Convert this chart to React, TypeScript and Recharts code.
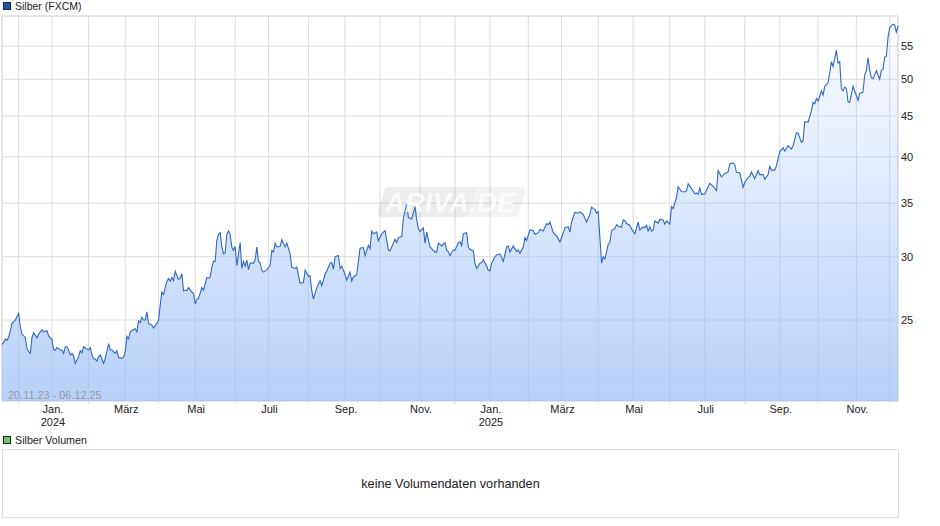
import { ComposedChart, Area, XAxis, YAxis, CartesianGrid, ReferenceArea } from 'recharts';

// trading sessions since 20.11.23 (only the turning points of the line)
const sessions = [
  0, 1, 2, 3, 4, 5, 6, 8, 10, 11, 12, 14, 15, 16, 17, 18, 19, 20, 21, 22, 24, 25, 27, 28, 30, 31, 32, 33, 35, 36, 37, 38, 39, 40, 41, 42, 43, 44, 46, 47, 48, 49, 51, 52, 53, 54, 55, 56, 57, 58, 59, 61, 62, 64, 65, 66, 68, 69, 70, 72, 73, 74, 75, 76, 77, 79, 80, 81, 82, 83, 84, 85, 86, 87, 88, 90, 91, 93, 94,
  95, 96, 97, 98, 99, 100, 101, 102, 103, 104, 106, 107, 108, 109, 110, 111, 112, 114, 115, 116, 117, 118, 120, 121, 123, 124, 125, 126, 127, 128, 129, 130, 131, 132, 133, 134, 135, 136, 137, 138, 139, 140, 141, 143, 144, 145, 146, 147, 148, 149, 151, 152, 153, 154, 155, 156, 157, 159, 161, 162, 163, 164, 165, 167, 168, 170, 171, 173, 174, 176, 177, 179, 181, 182, 184, 185,
  186, 187, 189, 191, 192, 194, 196, 197, 198, 199, 200, 202, 203, 204, 206, 207, 209, 210, 211, 213, 215, 217, 218, 220, 221, 222, 223, 225, 226, 228, 230, 232, 233, 236, 237, 238, 240, 241, 243, 244, 246, 248, 249, 250, 251, 253, 254, 255, 257, 259, 260, 261, 262, 264, 266, 267, 268, 269, 271, 272, 274, 275, 276, 277, 279,
  280, 281, 283, 284, 285, 287, 288, 289, 291, 292, 293, 294, 296, 297, 299, 301, 303, 304, 305, 307, 309, 310, 311, 313, 314, 315, 317, 319, 320, 322, 323, 325, 327, 328, 329, 331, 333, 335, 336, 338, 340, 341, 342, 344, 346, 347, 349, 351, 353, 354, 356, 357, 358, 360, 361, 362, 364, 365, 366, 368, 369, 370, 372, 373,
  374, 375, 377, 378, 380, 382, 383, 385, 386, 387, 388, 389, 390, 391, 392, 394, 395, 397, 398, 399, 401, 402, 403, 405, 406, 408, 410, 411, 412, 414, 416, 417, 418, 419, 420, 422, 424, 425, 427, 429, 430, 432, 434, 436, 437, 439, 440, 441, 443, 445, 446, 448, 449, 450, 452, 454, 455, 457, 458, 460, 461, 462, 464,
  465, 467, 469, 470, 472, 474, 475, 477, 478, 480, 481, 482, 484, 486, 487, 488, 489, 490, 492, 493, 494, 496, 497, 498, 499, 501, 502, 503, 504, 505, 506, 507, 508, 509, 511, 512, 514, 515, 517, 518, 519, 520, 521, 522, 523, 525, 527, 528, 529, 530, 531, 532, 533, 535, 536, 537, 538,
];

const prices = [
  23.3, 23.44, 23.66, 23.58, 23.78, 24.24, 24.76, 25.0, 25.49, 24.52, 24.01, 23.78, 23.04, 22.82, 22.71, 23.78, 24.1, 23.93, 23.75, 24.01, 24.31, 24.17, 24.24, 23.88, 23.63, 22.95, 22.93, 23.1, 22.93, 22.93, 22.71, 23.15, 23.15, 22.93, 22.6, 22.71, 22.55, 22.07, 22.48, 22.89, 22.75, 23.15, 23.0, 22.95, 23.1, 22.6, 22.37, 22.33, 22.22, 22.5, 22.6, 22.07, 22.39, 23.36, 22.95, 22.93, 22.71, 22.89, 22.45, 22.39, 22.48, 22.82, 23.85, 23.68, 24.17, 24.33, 24.38, 24.17, 24.95, 24.81, 25.2, 25.0, 25.0, 25.6, 24.76, 24.64, 24.43, 24.76, 25.0,
  26.1, 27.1, 26.9, 27.45, 27.94, 28.17, 27.97, 28.25, 28.0, 28.77, 28.1, 28.2, 28.58, 27.2, 27.25, 27.2, 27.45, 27.1, 27.0, 26.2, 26.55, 26.6, 27.45, 27.25, 28.25, 28.2, 28.3, 29.1, 29.6, 29.6, 31.45, 32.0, 32.15, 30.85, 30.25, 30.35, 32.0, 32.3, 32.0, 30.85, 30.55, 30.9, 29.25, 31.25, 29.0, 29.6, 29.2, 29.7, 28.9, 29.45, 29.45, 29.7, 30.85, 29.6, 29.45, 28.85, 28.7, 28.9, 29.25, 30.55, 30.4, 31.2, 30.85, 30.9, 31.5, 30.85, 31.2, 30.25, 29.1, 29.0, 29.1, 27.8, 27.85, 28.85, 28.35, 28.4,
  27.2, 26.55, 27.45, 28.0, 27.6, 28.5, 29.1, 29.45, 29.5, 28.95, 30.0, 30.1, 29.0, 29.2, 28.5, 28.05, 28.7, 27.97, 28.3, 28.5, 30.75, 30.8, 30.1, 31.0, 30.7, 32.3, 32.05, 32.2, 31.4, 32.05, 32.35, 30.6, 30.5, 31.55, 31.25, 31.7, 31.8, 33.5, 34.9, 33.6, 33.45, 34.65, 33.35, 32.5, 32.25, 32.6, 31.2, 32.2, 30.85, 30.55, 30.4, 30.4, 31.2, 30.95, 31.25, 30.55, 30.45, 30.1, 30.6, 30.55, 31.25, 31.3, 31.0, 32.05, 32.15,
  30.85, 30.65, 30.5, 29.4, 29.0, 29.45, 29.5, 29.75, 29.2, 28.85, 28.8, 29.45, 30.0, 30.15, 30.25, 29.6, 30.85, 30.95, 30.4, 30.95, 30.45, 30.6, 30.3, 30.85, 31.7, 31.45, 32.4, 32.35, 32.0, 32.15, 32.45, 32.3, 33.0, 32.9, 33.15, 32.15, 31.85, 31.3, 31.7, 32.6, 32.7, 32.2, 33.15, 34.1, 34.0, 34.15, 33.9, 33.15, 33.9, 34.6, 34.35, 34.0, 34.15, 29.45, 30.0, 29.8, 31.1, 31.25, 32.35, 32.55, 32.9, 32.75, 32.65, 33.35,
  33.3, 33.0, 32.85, 32.5, 32.05, 33.15, 32.4, 32.7, 32.6, 32.85, 32.3, 32.7, 32.3, 32.4, 33.25, 33.05, 33.4, 33.35, 32.95, 33.25, 32.95, 34.65, 34.45, 35.6, 36.7, 36.2, 36.15, 36.25, 37.0, 36.5, 35.95, 36.05, 35.9, 36.55, 35.9, 35.95, 36.7, 37.05, 36.75, 36.3, 38.45, 37.75, 38.1, 38.3, 39.2, 39.3, 39.1, 38.25, 38.2, 36.65, 37.15, 37.7, 37.8, 38.3, 37.55, 38.45, 38.0, 38.0, 37.5, 38.0, 38.9, 38.5, 38.5,
  39.0, 40.6, 41.05, 40.65, 41.3, 40.9, 41.3, 42.85, 42.8, 41.7, 41.9, 44.25, 44.2, 45.65, 46.8, 46.6, 47.3, 46.95, 48.35, 47.75, 49.0, 49.5, 50.95, 52.6, 51.9, 54.35, 52.4, 52.6, 48.7, 48.35, 48.9, 48.7, 46.85, 46.8, 49.0, 48.35, 47.05, 48.05, 48.2, 50.65, 51.2, 53.2, 51.35, 50.25, 50.1, 51.25, 50.0, 51.35, 51.45, 53.3, 53.4, 56.4, 58.0, 58.6, 58.45, 57.3, 58.3,
];

const monthTicks = [10, 30, 52, 74, 94, 116, 140, 160, 184, 206, 227, 251, 272, 293, 316, 336, 358, 379, 401, 422, 446, 467, 490, 513, 533];
const monthLabels = ['', 'Jan.', '', 'März', '', 'Mai', '', 'Juli', '', 'Sep.', '', 'Nov.', '', 'Jan.', '', 'März', '', 'Mai', '', 'Juli', '', 'Sep.', '', 'Nov.', ''];
const yearLabels: Record<number, string> = { 30: '2024', 293: '2025' };
const priceTicks = [25, 30, 35, 40, 45, 50, 55];
const priceDomain = [19.8, 60];

const FONT = '"Liberation Sans", Arial, sans-serif';
const GRID = '#dcdcdc';

const chartData = sessions.map((session, i) => ({ session, price: prices[i] }));

// y comes in 8px below the axis (tick size + margin)
function MonthTick({ x, y, payload }: any) {
  const idx = monthTicks.indexOf(payload.value);
  const label = monthLabels[idx];
  if (!label) {
    return <line x1={x} x2={x} y1={y - 8} y2={y - 5} stroke={GRID} />;
  }
  return (
    <g fontFamily={FONT} fontSize={11} fill="#222" textAnchor="middle">
      <text x={x + 1} y={y + 4}>{label}</text>
      {yearLabels[payload.value] && <text x={x + 1} y={y + 17}>{yearLabels[payload.value]}</text>}
    </g>
  );
}

function Swatch({ top, color }: { top: number; color: string }) {
  return (
    <div style={{ position: 'absolute', left: 3, top, width: 6, height: 6, background: color, border: '1px solid #223' }} />
  );
}

function Watermark() {
  return (
    <svg width={160} height={40} style={{ position: 'absolute', left: 372, top: 182 }}>
      <path d="M16 5 L105 5 L95 35 L10 35 Q4 35 6 29 L12 9 Q13 5 16 5 Z" fill="#888" opacity={0.15} />
      <path d="M105 5 L150 5 Q155 5 153 10 L147 31 Q146 35 141 35 L95 35 Z" fill="#888" opacity={0.1} />
      <text x={78} y={30} textAnchor="middle" fontFamily={FONT} fontSize={27} fontWeight="bold" fontStyle="italic" fill="#fff" opacity={0.8} textLength={130}>
        ARIVA.DE
      </text>
    </svg>
  );
}

export default function App() {
  return (
    <div style={{ position: 'absolute', left: 0, top: 0, width: 940, height: 526, background: '#fff', fontFamily: FONT, overflow: 'hidden' }}>
      <Swatch top={2} color="#1a56b8" />
      <div style={{ position: 'absolute', left: 15, top: 0, fontSize: 10.5, lineHeight: '13px', color: '#222' }}>Silber (FXCM)</div>

      <ComposedChart width={940} height={445} data={chartData} margin={{ top: 16, right: 0, bottom: 15, left: 2 }}>
        <defs>
          <linearGradient id="silverFill" x1="0" y1="0" x2="0" y2="1">
            <stop offset="0%" stopColor="#9abcf5" stopOpacity={0.03} />
            <stop offset="100%" stopColor="#9abcf5" stopOpacity={0.7} />
          </linearGradient>
        </defs>
        <CartesianGrid stroke={GRID} strokeWidth={1} />
        <XAxis
          dataKey="session"
          type="number"
          domain={[0, 538]}
          ticks={monthTicks}
          interval={0}
          height={29}
          axisLine={false}
          tickLine={false}
          tick={<MonthTick />}
        />
        <YAxis
          orientation="right"
          type="number"
          scale="log"
          domain={priceDomain}
          allowDataOverflow
          ticks={priceTicks}
          interval={0}
          width={42}
          axisLine={false}
          tickLine={false}
          tickSize={0}
          tickMargin={3}
          tick={{ fontSize: 11, fill: '#222', fontFamily: FONT }}
        />
        <ReferenceArea x1={0} x2={538} y1={priceDomain[0]} y2={priceDomain[1]} fill="none" stroke={GRID} />
        <Area
          type="linear"
          dataKey="price"
          baseValue={priceDomain[0]}
          stroke="#2f68c4"
          strokeWidth={1.1}
          fill="url(#silverFill)"
          fillOpacity={1}
          dot={false}
          activeDot={false}
          isAnimationActive={false}
        />
      </ComposedChart>

      <Watermark />
      <div style={{ position: 'absolute', left: 8, top: 389, fontSize: 10.9, lineHeight: '13px', color: '#999' }}>20.11.23 - 06.12.25</div>

      <Swatch top={436} color="#66cc66" />
      <div style={{ position: 'absolute', left: 15, top: 434, fontSize: 10.7, lineHeight: '13px', color: '#222' }}>Silber Volumen</div>
      <div
        style={{
          position: 'absolute', left: 2, top: 449, width: 895, height: 67, border: `1px solid ${GRID}`,
          display: 'flex', alignItems: 'center', justifyContent: 'center', fontSize: 12.7, color: '#222',
        }}
      >
        keine Volumendaten vorhanden
      </div>
    </div>
  );
}
